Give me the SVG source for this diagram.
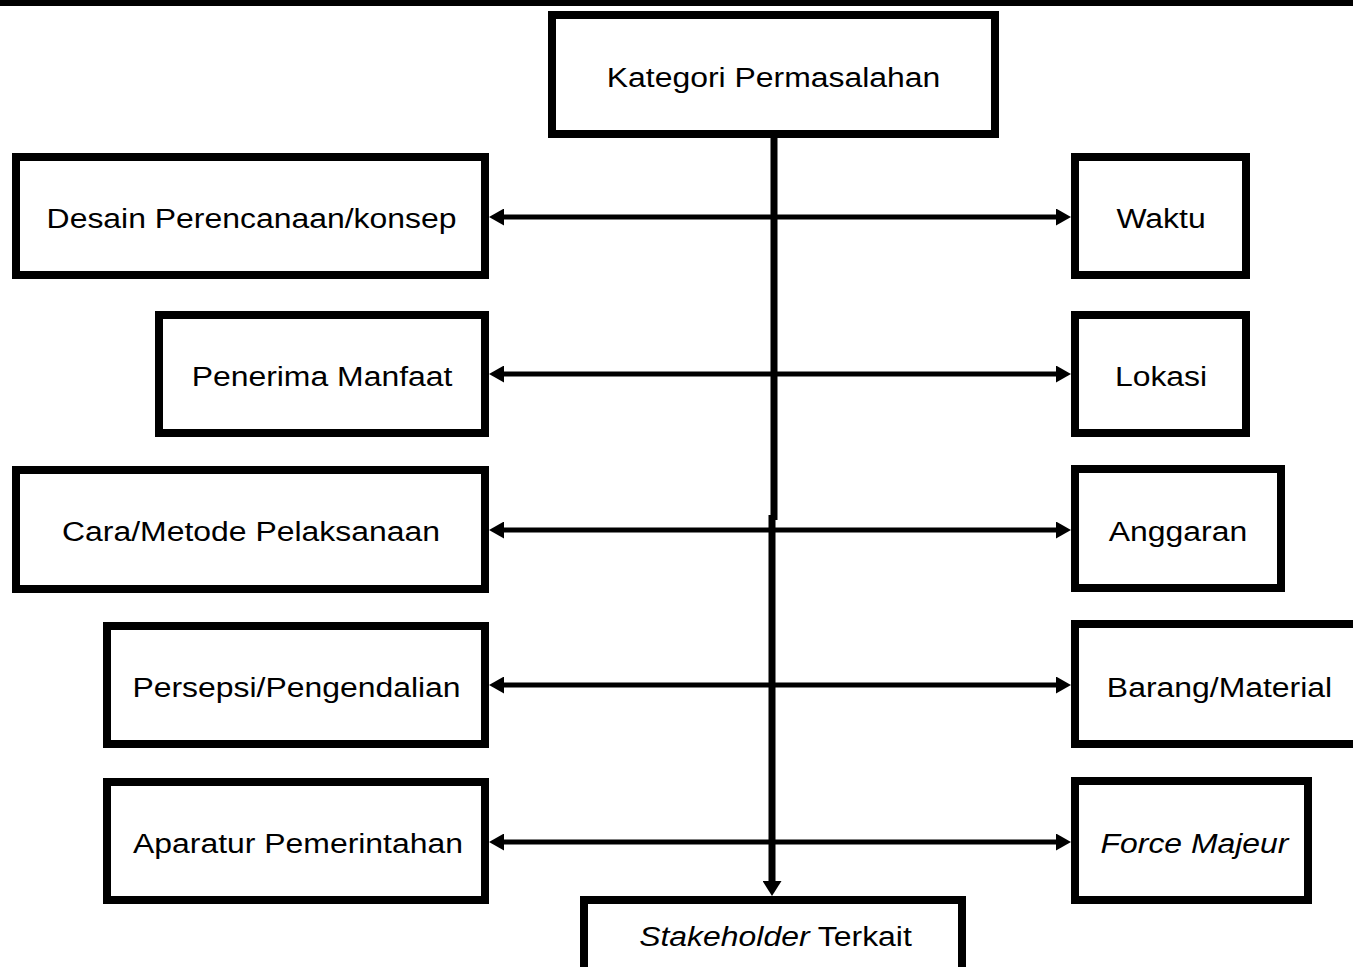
<svg xmlns="http://www.w3.org/2000/svg" width="1353" height="967" viewBox="0 0 1353 967">
<defs>
<style>
.box{fill:#fff;stroke:#000;stroke-width:8}
.lbl{font-family:"Liberation Sans",Arial,sans-serif;font-size:28px;fill:#000;text-anchor:middle}
.it{font-style:italic}
.conn{stroke:#000;stroke-width:5;fill:none}
.vert{stroke:#000;stroke-width:7;fill:none}
</style>
<marker id="ah" viewBox="0 0 15 17" refX="3" refY="8.5" markerWidth="15" markerHeight="17" markerUnits="userSpaceOnUse" orient="auto-start-reverse">
<path d="M0,0 L15,8.5 L0,17 z" fill="#000"/>
</marker>
<marker id="ahv" viewBox="0 0 15 19" refX="3" refY="9.5" markerWidth="15" markerHeight="19" markerUnits="userSpaceOnUse" orient="auto">
<path d="M0,0 L15,9.5 L0,19 z" fill="#000"/>
</marker>
</defs>
<rect width="1353" height="967" fill="#fff"/>
<rect x="0" y="0" width="1353" height="6" fill="#000"/>

<g id="connectors">
<line class="vert" x1="774" y1="136" x2="774" y2="520"/>
<line class="vert" x1="772" y1="515" x2="772" y2="884" marker-end="url(#ahv)"/>
<line class="conn" x1="501" y1="217" x2="1059" y2="217" marker-start="url(#ah)" marker-end="url(#ah)"/>
<line class="conn" x1="501" y1="374" x2="1059" y2="374" marker-start="url(#ah)" marker-end="url(#ah)"/>
<line class="conn" x1="501" y1="530" x2="1059" y2="530" marker-start="url(#ah)" marker-end="url(#ah)"/>
<line class="conn" x1="501" y1="685" x2="1059" y2="685" marker-start="url(#ah)" marker-end="url(#ah)"/>
<line class="conn" x1="501" y1="842" x2="1059" y2="842" marker-start="url(#ah)" marker-end="url(#ah)"/>
</g>

<g id="kategori">
<rect class="box" x="552" y="15" width="443" height="119"/>
<text class="lbl" transform="translate(773.5,87) scale(1.14,1)">Kategori Permasalahan</text>
</g>
<g id="desain">
<rect class="box" x="16" y="157" width="469" height="118"/>
<text class="lbl" transform="translate(251.5,228) scale(1.14,1)">Desain Perencanaan/konsep</text>
</g>
<g id="waktu">
<rect class="box" x="1075" y="157" width="171" height="118"/>
<text class="lbl" transform="translate(1161,228) scale(1.14,1)">Waktu</text>
</g>
<g id="penerima">
<rect class="box" x="159" y="315" width="326" height="118"/>
<text class="lbl" transform="translate(322,386) scale(1.14,1)">Penerima Manfaat</text>
</g>
<g id="lokasi">
<rect class="box" x="1075" y="315" width="171" height="118"/>
<text class="lbl" transform="translate(1161,386) scale(1.14,1)">Lokasi</text>
</g>
<g id="cara">
<rect class="box" x="16" y="470" width="469" height="119"/>
<text class="lbl" transform="translate(251,541) scale(1.14,1)">Cara/Metode Pelaksanaan</text>
</g>
<g id="anggaran">
<rect class="box" x="1075" y="469" width="206" height="119"/>
<text class="lbl" transform="translate(1178,541) scale(1.14,1)">Anggaran</text>
</g>
<g id="persepsi">
<rect class="box" x="107" y="626" width="378" height="118"/>
<text class="lbl" transform="translate(296.5,697) scale(1.14,1)">Persepsi/Pengendalian</text>
</g>
<g id="barang">
<rect class="box" x="1075" y="624" width="290" height="120"/>
<text class="lbl" transform="translate(1219.5,697) scale(1.14,1)">Barang/Material</text>
</g>
<g id="aparatur">
<rect class="box" x="107" y="782" width="378" height="118"/>
<text class="lbl" transform="translate(298,853) scale(1.14,1)">Aparatur Pemerintahan</text>
</g>
<g id="force">
<rect class="box" x="1075" y="781" width="233" height="119"/>
<text class="lbl it" transform="translate(1194.5,853) scale(1.14,1)">Force Majeur</text>
</g>
<g id="stakeholder">
<rect class="box" x="584" y="900" width="378" height="80"/>
<text class="lbl" transform="translate(775.5,946) scale(1.14,1)"><tspan class="it">Stakeholder</tspan> Terkait</text>
</g>
</svg>
